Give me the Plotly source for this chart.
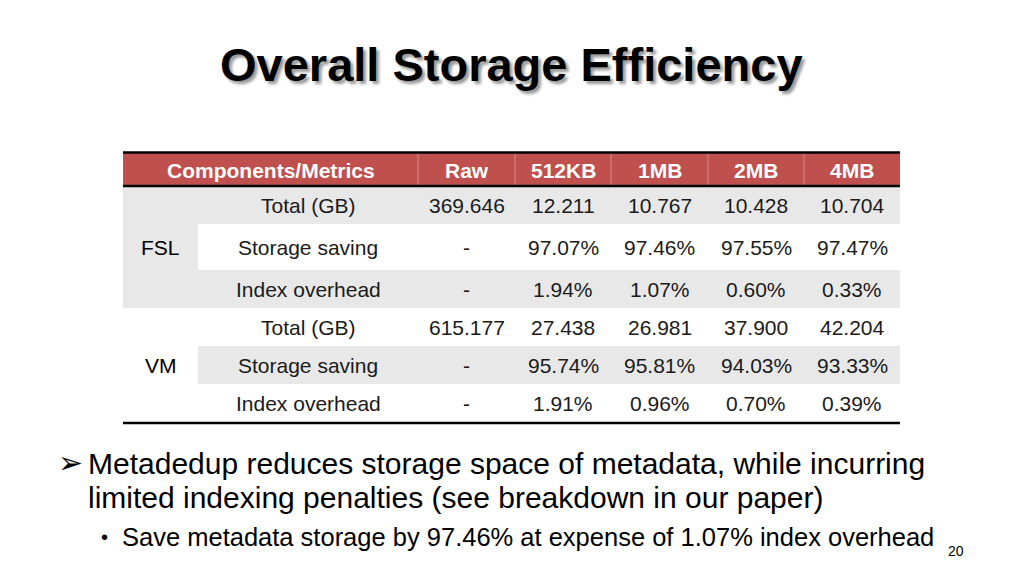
import plotly.graph_objects as go

# ---------------- data ----------------
header = ["Components/Metrics", "Raw", "512KB", "1MB", "2MB", "4MB"]
groups = ["FSL", "VM"]
metrics = ["Total (GB)", "Storage saving", "Index overhead"]
fsl_raw = ["369.646", "-", "-"]
fsl_512kb = ["12.211", "97.07%", "1.94%"]
fsl_1mb = ["10.767", "97.46%", "1.07%"]
fsl_2mb = ["10.428", "97.55%", "0.60%"]
fsl_4mb = ["10.704", "97.47%", "0.33%"]
vm_raw = ["615.177", "-", "-"]
vm_512kb = ["27.438", "95.74%", "1.91%"]
vm_1mb = ["26.981", "95.81%", "0.96%"]
vm_2mb = ["37.900", "94.03%", "0.70%"]
vm_4mb = ["42.204", "93.33%", "0.39%"]
values = {
    "FSL": [fsl_raw, fsl_512kb, fsl_1mb, fsl_2mb, fsl_4mb],
    "VM": [vm_raw, vm_512kb, vm_1mb, vm_2mb, vm_4mb],
}
title = "Overall Storage Efficiency"
bullet1 = ["Metadedup reduces storage space of metadata, while incurring",
           "limited indexing penalties (see breakdown in our paper)"]
bullet2 = "Save metadata storage by 97.46% at expense of 1.07% index overhead"
page_no = "20"

# ---------------- layout geometry ----------------
FONT = "Liberation Sans, Arial, Helvetica, sans-serif"
RED = "#C0504D"
GRAY = "#E8E8E8"
col_edges = [123, 418, 515, 611, 708, 804, 900]
grp_split = 198
hdr_top, hdr_bot = 153, 186
row_edges = [186, 224, 270, 308, 346, 384, 423]

shapes = []
ann = []

def rect(x0, x1, y0, y1, color):
    shapes.append(dict(type="rect", xref="x", yref="y", x0=x0, x1=x1, y0=y0, y1=y1,
                       fillcolor=color, line=dict(width=0), layer="below"))

def hline(y, x0, x1, w, color="black"):
    shapes.append(dict(type="line", xref="x", yref="y", x0=x0, x1=x1, y0=y, y1=y,
                       line=dict(color=color, width=w)))

def text(x, y, s, size=20, color="black", bold=False, anchor="center", **kw):
    if bold:
        s = "<b>" + s + "</b>"
    ann.append(dict(x=x, y=y, xref="x", yref="y", text=s, showarrow=False,
                    xanchor=anchor, yanchor="middle",
                    font=dict(family=FONT, size=size, color=color, **kw)))

# header
rect(col_edges[0], col_edges[-1], hdr_top, hdr_bot, RED)
for xe in col_edges[1:-1]:
    shapes.append(dict(type="line", xref="x", yref="y", x0=xe, x1=xe, y0=hdr_top, y1=hdr_bot,
                       line=dict(color="#D98886", width=1)))
for i, h in enumerate(header):
    text((col_edges[i] + col_edges[i + 1]) / 2, (hdr_top + hdr_bot) / 2 + 1, h,
         size=21, color="white", bold=True)

# body backgrounds
rect(col_edges[0], grp_split, row_edges[0], row_edges[3], GRAY)
rect(col_edges[0], col_edges[-1], row_edges[0], row_edges[1], GRAY)
rect(col_edges[0], col_edges[-1], row_edges[2], row_edges[3], GRAY)
rect(grp_split, col_edges[-1], row_edges[4], row_edges[5], GRAY)

# rules
hline(152.5, col_edges[0], col_edges[-1], 2.5)
hline(186, col_edges[0], col_edges[-1], 2.5)
hline(423, col_edges[0], col_edges[-1], 2.5)

# body text
for gi, g in enumerate(groups):
    r0 = gi * 3
    gy = (row_edges[r0] + row_edges[r0 + 3]) / 2
    text((col_edges[0] + grp_split) / 2, gy, g, size=21)
    for mi, m in enumerate(metrics):
        r = r0 + mi
        ry = (row_edges[r] + row_edges[r + 1]) / 2
        text((grp_split + col_edges[1]) / 2, ry, m, size=21, color="#1a1a1a")
        for ci, col in enumerate(values[g]):
            text((col_edges[ci + 1] + col_edges[ci + 2]) / 2, ry, col[mi], size=21, color="#1a1a1a")

# title
text(511, 64, title, size=47, bold=True, shadow="3px 3px 3px #999999")

# bullets
text(70, 462, "➢", size=30)
text(86, 463, bullet1[0], size=30, anchor="left")
text(86, 497, bullet1[1], size=30, anchor="left")
text(104, 537, "•", size=20)
text(120, 537, bullet2, size=25.5, anchor="left")
text(956, 551, page_no, size=14)

fig = go.Figure()
fig.add_trace(go.Scatter(x=[0, 1024], y=[0, 576], mode="markers",
                         marker=dict(opacity=0), hoverinfo="skip", showlegend=False))
fig.update_layout(
    width=1024, height=576, margin=dict(l=0, r=0, t=0, b=0),
    paper_bgcolor="white", plot_bgcolor="white",
    xaxis=dict(range=[0, 1024], visible=False, fixedrange=True),
    yaxis=dict(range=[576, 0], visible=False, fixedrange=True),
    shapes=shapes, annotations=ann, showlegend=False,
)
fig.write_html("out.html", config={"displayModeBar": False},
               post_script="document.body.style.margin='0';document.body.style.overflow='hidden';")
